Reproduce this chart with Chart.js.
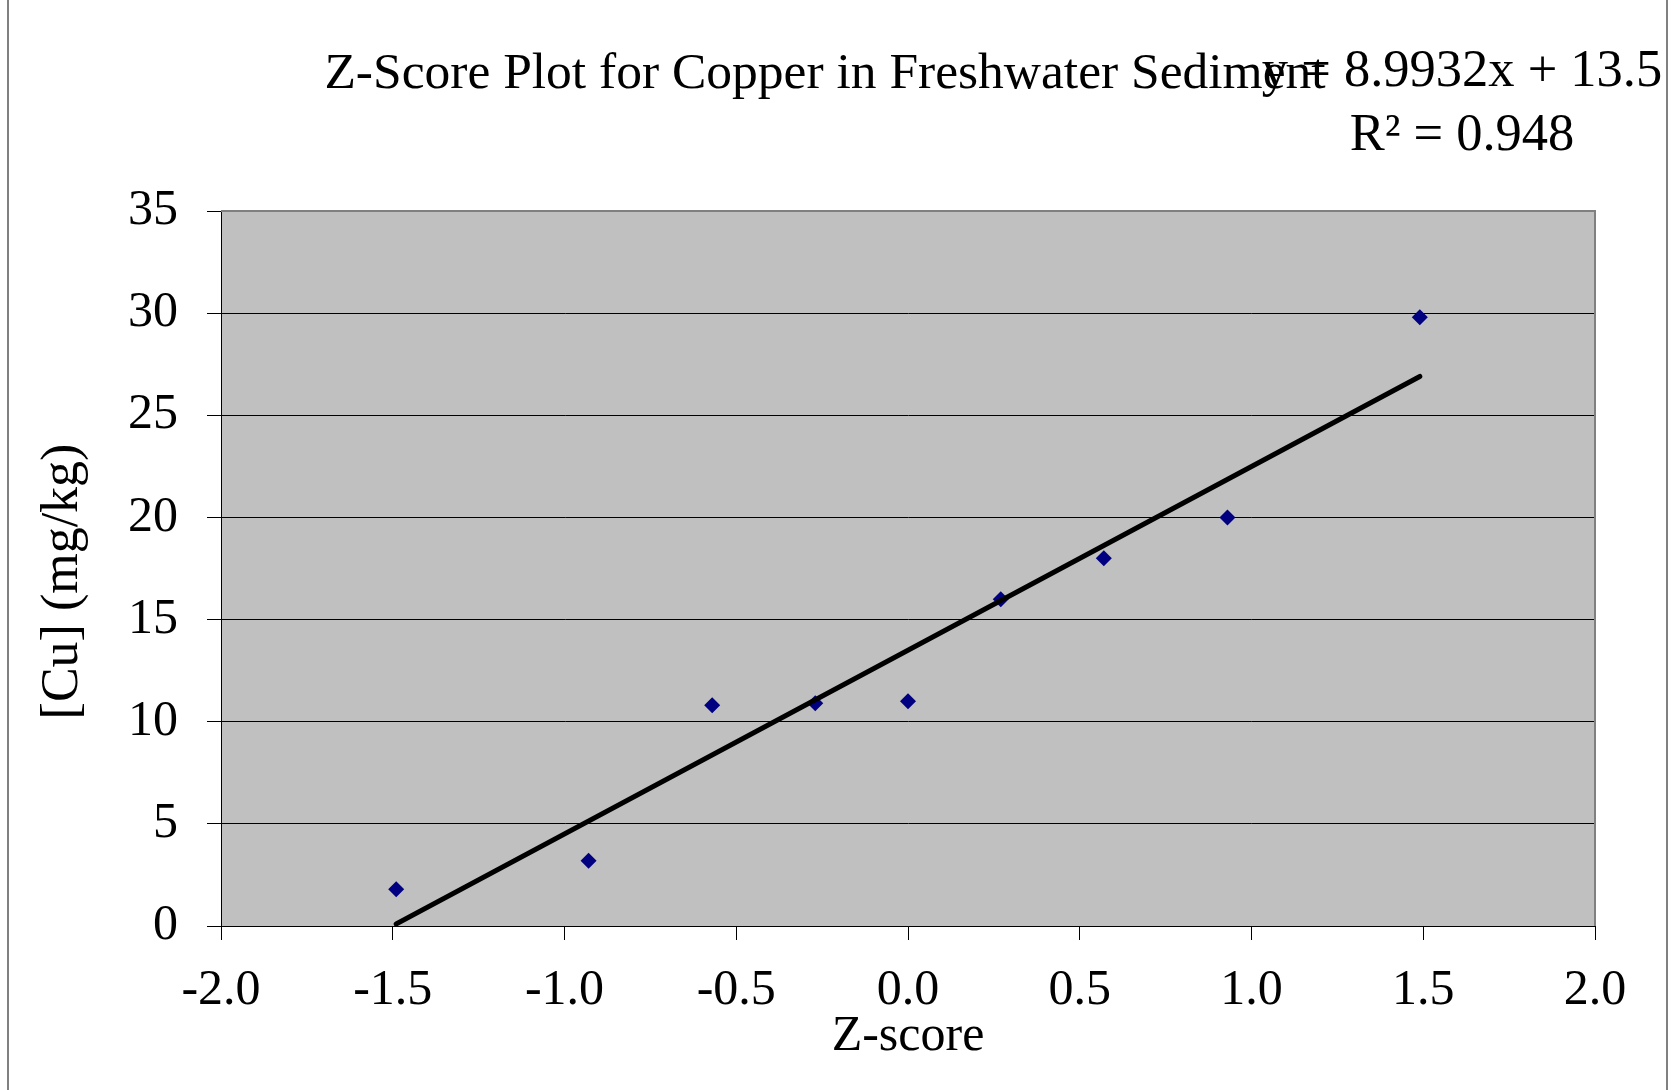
<!DOCTYPE html>
<html lang="en">
  <head>
    <meta charset="UTF-8" />
    <title>Z-Score Plot for Copper</title>
    <script src="https://cdn.jsdelivr.net/npm/chart.js@4.4.1/dist/chart.umd.min.js"></script>
    <style>
      body { margin: 0; background: #fff; }
      canvas { display: block; }
    </style>
  </head>
  <body>
    <canvas id="myChart" width="1675" height="1090"></canvas>

    <script>
      // data
      const zScores = [-1.49, -0.93, -0.57, -0.27, 0.0, 0.27, 0.57, 0.93, 1.49];
      const copper = [1.8, 3.2, 10.8, 10.9, 11.0, 16.0, 18.0, 20.0, 29.8];
      const xTicks = [-2.0, -1.5, -1.0, -0.5, 0.0, 0.5, 1.0, 1.5, 2.0];
      const yTicks = [0, 5, 10, 15, 20, 25, 30, 35];
      const slope = 8.9932;
      const intercept = 13.5;
      const rSquared = 0.948;

      const serif = "'Liberation Serif', 'Times New Roman', serif";

      const points = zScores.map((z, i) => ({ x: z, y: copper[i] }));
      const zMin = zScores[0];
      const zMax = zScores[zScores.length - 1];
      const trend = [
        { x: zMin, y: slope * zMin + intercept },
        { x: zMax, y: slope * zMax + intercept },
      ];

      // frame, grey plot area and the text at the top
      const decor = {
        id: "decor",
        beforeDraw(chart) {
          const { ctx, chartArea: a } = chart;
          ctx.save();
          ctx.fillStyle = "#fff";
          ctx.fillRect(0, 0, chart.width, chart.height);
          ctx.strokeStyle = "#808080";
          ctx.lineWidth = 2;
          ctx.strokeRect(8, -5, 1659, 1100);
          ctx.fillStyle = "#c0c0c0";
          ctx.fillRect(a.left, a.top, a.right - a.left, a.bottom - a.top);
          ctx.restore();
        },
        afterDatasetsDraw(chart) {
          const { ctx, chartArea: a } = chart;
          ctx.save();
          ctx.strokeStyle = "#808080";
          ctx.lineWidth = 2;
          ctx.beginPath();
          ctx.moveTo(a.left, a.top);
          ctx.lineTo(a.right, a.top);
          ctx.lineTo(a.right, a.bottom);
          ctx.stroke();
          ctx.restore();
        },
        afterDraw(chart) {
          const { ctx } = chart;
          ctx.save();
          ctx.fillStyle = "#000";
          ctx.textAlign = "center";
          ctx.textBaseline = "alphabetic";
          ctx.font = "51.5px " + serif;
          ctx.fillText("Z-Score Plot for Copper in Freshwater Sediment", 825, 88);
          ctx.font = "52.5px " + serif;
          ctx.fillText("y = " + slope + "x + " + intercept, 1462, 86);
          ctx.fillText("R\u00b2 = " + rSquared, 1462, 150);
          ctx.restore();
        },
      };

      const ctx = document.getElementById("myChart");

      new Chart(ctx, {
        type: "scatter",
        data: {
          datasets: [
            {
              label: "trend",
              type: "line",
              data: trend,
              borderColor: "#000",
              borderWidth: 5,
              borderCapStyle: "round",
              pointRadius: 0,
              fill: false,
              order: 0,
            },
            {
              label: "[Cu]",
              data: points,
              pointStyle: "rectRot",
              pointRadius: 8,
              backgroundColor: "#000080",
              borderColor: "#000080",
              borderWidth: 0,
              order: 1,
            },
          ],
        },
        options: {
          responsive: false,
          animation: false,
          layout: { padding: { left: 0, top: 211, right: 80, bottom: 0 } },
          plugins: {
            legend: { display: false },
            tooltip: { enabled: false },
          },
          scales: {
            x: {
              type: "linear",
              min: -2,
              max: 2,
              afterBuildTicks: (s) => {
                s.ticks = xTicks.map((v) => ({ value: v }));
              },
              afterFit: (s) => {
                s.height = 164;
              },
              ticks: {
                color: "#000",
                font: { family: serif, size: 50 },
                padding: 21,
                maxRotation: 0,
                callback: (v) => v.toFixed(1),
              },
              grid: {
                drawOnChartArea: false,
                tickLength: 14,
                color: "#000",
              },
              border: { color: "#000", width: 1 },
              title: {
                display: true,
                text: "Z-score",
                color: "#000",
                font: { family: serif, size: 50 },
                padding: { top: 0, bottom: 23 },
              },
            },
            y: {
              min: 0,
              max: 35,
              afterBuildTicks: (s) => {
                s.ticks = yTicks.map((v) => ({ value: v }));
              },
              afterFit: (s) => {
                s.width = 221;
              },
              ticks: {
                color: "#000",
                font: { family: serif, size: 50 },
                padding: 29,
              },
              grid: {
                tickLength: 14,
                color: "#000",
                lineWidth: 1,
              },
              border: { color: "#000", width: 1 },
              title: {
                display: true,
                text: "[Cu] (mg/kg)\u00a0\u00a0",
                color: "#000",
                font: { family: serif, size: 52 },
                padding: { top: 32, bottom: 0 },
              },
            },
          },
        },
        plugins: [decor],
      });
    </script>
  </body>
</html>
